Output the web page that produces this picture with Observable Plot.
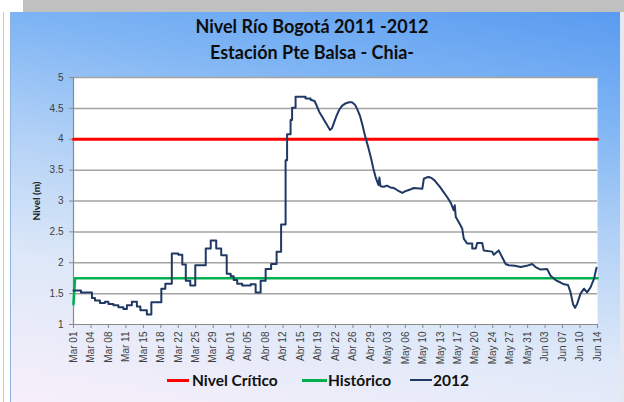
<!DOCTYPE html>
<html><head><meta charset="utf-8">
<script src="https://cdn.jsdelivr.net/npm/d3@7"></script>
<script src="https://cdn.jsdelivr.net/npm/@observablehq/plot@0.6"></script>
<style>
body{margin:0;width:624px;height:402px;overflow:hidden;background:#fff;font-family:Lato,"Liberation Sans",sans-serif}
#wrap{position:relative;width:624px;height:402px}
#band{position:absolute;left:23px;top:0;width:601px;height:12px;background:#c0c0c0}
#lline{position:absolute;left:3px;top:12px;width:1px;height:390px;background:#b9cde6}
#panel{position:absolute;left:10px;top:12px;width:610px;height:390px;border-left:1px solid #8fb4e3;
 background:linear-gradient(190deg,#5a9bf0 0%,#7db4f4 22%,#b2d1f6 46%,#dde8f8 70%,#f7effa 100%)}
#rightedge{position:absolute;left:620px;top:12px;width:4px;height:390px;background:#e3e8f2}
.t{position:absolute;left:0;width:624px;text-align:center;font-weight:700;color:#0d0d0d;font-size:18px}
#chart{position:absolute;left:0;top:0}
#ylab{position:absolute;left:36px;top:201px;transform:translate(-50%,-50%) rotate(-90deg);font-size:10px;font-weight:700;color:#222;white-space:nowrap}
.lg{position:absolute;top:371px;font-size:15.5px;font-weight:700;color:#111;white-space:nowrap;line-height:18px}
.sw{position:absolute;top:379px;height:3px}
</style></head>
<body><div id="wrap">
<div id="band"></div><div id="lline"></div><div id="panel"></div><div id="rightedge"></div>
<div class="t" style="top:15px">Nivel Río Bogotá 2011 -2012</div>
<div class="t" style="top:41px">Estación Pte Balsa - Chia-</div>
<div id="chart"></div>
<div id="ylab">Nivel (m)</div>
<div class="sw" style="left:167px;width:22px;background:#ff0000"></div><div class="lg" style="left:192px">Nivel Crítico</div>
<div class="sw" style="left:302px;width:25px;background:#00b050"></div><div class="lg" style="left:328px">Histórico</div>
<div class="sw" style="left:410px;width:22px;height:2px;background:#1f3864"></div><div class="lg" style="left:433px">2012</div>
</div>
<script>
const xLabels = ["Mar 01","Mar 04","Mar 08","Mar 11","Mar 15","Mar 18","Mar 22","Mar 25","Mar 29","Abr 01","Abr 05","Abr 08","Abr 12","Abr 15","Abr 19","Abr 22","Abr 26","Abr 29","May 03","May 06","May 10","May 13","May 17","May 20","May 24","May 27","May 31","Jun 03","Jun 07","Jun 10","Jun 14"];
const yTicks = [1,1.5,2,2.5,3,3.5,4,4.5,5];
// [día desde Mar 01, nivel (m)]
const serie2012 = [[0,1.55],[1.5,1.55],[1.5,1.52],[3.7,1.52],[3.7,1.43],[4.3,1.43],[4.3,1.39],[5.3,1.39],[5.3,1.35],[6.3,1.35],[6.3,1.37],[7,1.37],[7,1.33],[8,1.33],[8,1.31],[9,1.31],[9,1.28],[10,1.28],[10,1.25],[10.7,1.25],[10.7,1.31],[11.7,1.31],[11.7,1.37],[12.7,1.37],[12.7,1.29],[13.4,1.29],[13.4,1.23],[14.7,1.23],[14.7,1.16],[15.6,1.16],[15.6,1.36],[17.6,1.36],[17.6,1.58],[18.4,1.58],[18.4,1.66],[19.7,1.66],[19.7,2.15],[21,2.15],[21,2.13],[21.8,2.13],[21.8,1.97],[22.5,1.97],[22.5,1.71],[23.4,1.71],[23.4,1.63],[24.4,1.63],[24.4,1.96],[26.5,1.96],[26.5,2.23],[27.5,2.23],[27.5,2.36],[28.6,2.36],[28.6,2.23],[29.6,2.23],[29.6,2.12],[30.7,2.12],[30.7,1.82],[31.5,1.82],[31.5,1.78],[32.1,1.78],[32.1,1.72],[32.8,1.72],[32.8,1.66],[33.8,1.66],[33.8,1.63],[35.5,1.63],[35.5,1.65],[36.5,1.65],[36.5,1.52],[37.5,1.52],[37.5,1.71],[38.5,1.71],[38.5,1.9],[39.6,1.9],[39.6,1.98],[40.7,1.98],[40.7,2.18],[41.6,2.18],[41.6,2.62],[42.5,2.62],[42.5,3.66],[42.8,3.66],[42.8,4.08],[43.5,4.08],[43.5,4.31],[43.8,4.31],[43.8,4.51],[44.5,4.51],[44.5,4.69],[46.5,4.69],[46.5,4.66],[47.5,4.66],[47.5,4.64],[48.3,4.62],[48.7,4.55],[49.2,4.45],[49.8,4.37],[50.3,4.3],[50.9,4.22],[51.4,4.15],[51.8,4.18],[52.2,4.27],[52.7,4.38],[53.2,4.47],[53.8,4.54],[54.5,4.58],[55.2,4.6],[55.8,4.6],[56.4,4.56],[56.9,4.48],[57.4,4.38],[57.9,4.23],[58.5,4.03],[59.1,3.86],[59.6,3.7],[60.1,3.52],[60.6,3.37],[61.1,3.26],[61.3,3.38],[61.5,3.24],[62.2,3.23],[62.8,3.25],[63.5,3.22],[64.2,3.21],[65,3.17],[65.9,3.13],[66.5,3.16],[66.9,3.17],[67.6,3.19],[68.2,3.21],[69.9,3.2],[70.2,3.36],[70.7,3.38],[71.2,3.39],[71.8,3.37],[72.4,3.33],[73,3.27],[73.5,3.22],[74.2,3.14],[74.9,3.06],[75.6,2.97],[76.2,2.85],[76.4,2.93],[76.6,2.74],[76.9,2.7],[77.6,2.6],[77.9,2.55],[78.2,2.39],[78.9,2.31],[79.9,2.31],[79.9,2.23],[80.6,2.23],[80.9,2.32],[81.9,2.32],[82.2,2.2],[83.9,2.18],[84.2,2.13],[85.2,2.2],[85.9,2.09],[86.6,1.98],[87.2,1.96],[88.4,1.95],[89.6,1.93],[90.8,1.95],[91.9,1.98],[92.6,1.93],[93.6,1.89],[94.9,1.9],[95.6,1.79],[96.6,1.72],[97.6,1.68],[98.3,1.65],[99.1,1.64],[99.6,1.52],[100.1,1.33],[100.5,1.27],[100.9,1.33],[101.6,1.5],[102.3,1.58],[102.9,1.52],[103.6,1.6],[104.3,1.74],[104.8,1.92]];
const historico = [[0,1.33],[0.3,1.75],[105,1.75]];
const critico = [[0,4],[105,4]];

const xTicks = xLabels.map((_, i) => i * 3.5);

const chart = Plot.plot({
  width: 624, height: 402,
  marginLeft: 73, marginRight: 27, marginTop: 77, marginBottom: 78,
  style: {background: "transparent", fontFamily: "Liberation Sans, sans-serif", fontSize: "10px", color: "#404040"},
  x: {domain: [0, 105]},
  y: {domain: [1, 5]},
  marks: [
    Plot.frame({fill: "white", stroke: "none"}),
    Plot.ruleY(yTicks.filter(v => v > 1), {stroke: "#a3a3a3", strokeWidth: 1.5}),
    Plot.ruleX([0], {stroke: "#8a8a8a", strokeWidth: 1.2}),
    Plot.ruleY([1], {stroke: "#8a8a8a", strokeWidth: 1.2}),
    Plot.axisY({ticks: yTicks, tickFormat: d => String(d), tickSize: 4, tickPadding: 6, label: null, stroke: "#8a8a8a"}),
    Plot.axisX({ticks: xTicks, tickFormat: d => xLabels[Math.round(d / 3.5)], tickRotate: -90, tickSize: 4, tickPadding: 3, label: null, stroke: "#8a8a8a"}),
    Plot.line(critico, {x: d => d[0], y: d => d[1], stroke: "#ff0000", strokeWidth: 3}),
    Plot.line(historico, {x: d => d[0], y: d => d[1], stroke: "#00b050", strokeWidth: 2.6}),
    Plot.line(serie2012, {x: d => d[0], y: d => d[1], stroke: "#1f3864", strokeWidth: 2, strokeLinejoin: "round"})
  ]
});
document.getElementById("chart").appendChild(chart);
</script>
</body></html>
